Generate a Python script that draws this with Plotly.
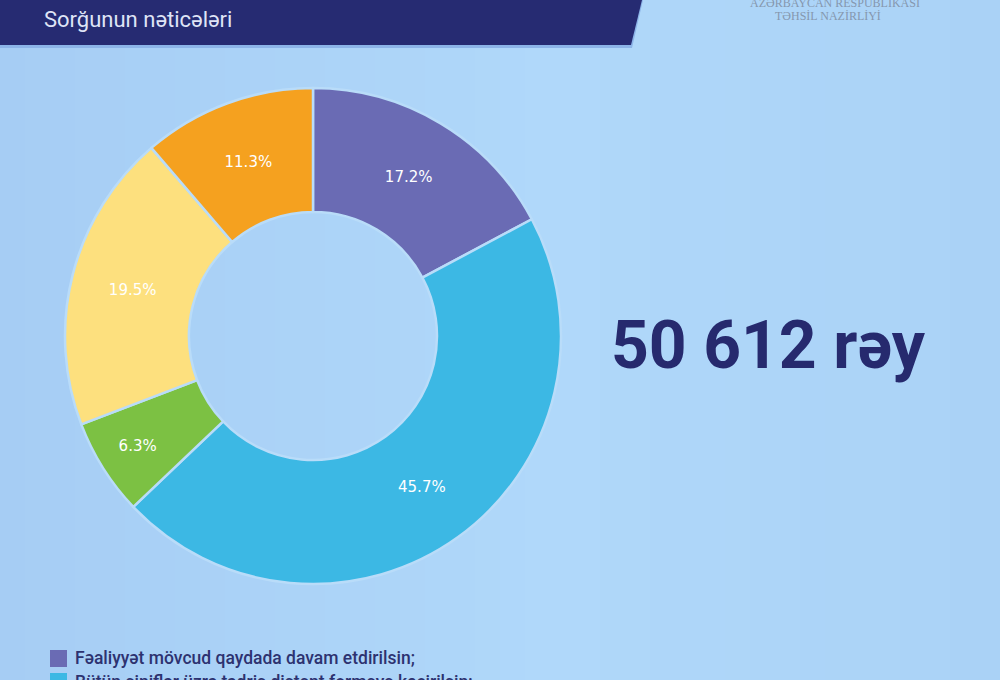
import plotly.graph_objects as go

W, H = 1000, 680

labels = [
    "Fəaliyyət mövcud qaydada davam etdirilsin;",
    "Bütün siniflər üzrə tədris distant formaya keçirilsin;",
    "Yalnız ibtidai siniflər üzrə ənənəvi formada davam etdirilsin;",
    "Tədris qarışıq formada təşkil edilsin;",
    "Digər",
]
values = [17.2, 45.7, 6.3, 19.5, 11.3]
text_labels = ["17.2%", "45.7%", "6.3%", "19.5%", "11.3%"]
colors = ["#6a6bb4", "#3cb8e4", "#7cc143", "#fde07e", "#f5a11f"]

title_text = "Sorğunun nəticələri"
total_text = "50 612 rəy"
org_line1 = "AZƏRBAYCAN RESPUBLİKASI"
org_line2 = "TƏHSİL NAZİRLİYİ"


def px(x):
    return x / W


def py(y):
    return 1 - y / H


cx, cy, r = 313, 336, 248

fig = go.Figure()
fig.add_trace(go.Pie(
    labels=labels,
    values=values,
    text=text_labels,
    textinfo="text",
    textposition="inside",
    insidetextorientation="horizontal",
    textfont=dict(family="DejaVu Sans", size=15, color="white"),
    marker=dict(colors=colors, line=dict(color="#b9dcf9", width=2.5)),
    hole=0.5,
    sort=False,
    direction="clockwise",
    rotation=0,
    showlegend=False,
    domain=dict(x=[px(cx - r), px(cx + r)], y=[py(cy + r), py(cy - r)]),
))

shapes = []
# smooth-ish background: gentle horizontal gradient
left_rgb = (166, 205, 244)
mid_rgb = (176, 216, 250)
right_rgb = (170, 210, 246)
n = 40
for i in range(n):
    t = (i + 0.5) / n
    if t < 0.55:
        u = t / 0.55
        c = tuple(round(left_rgb[k] + (mid_rgb[k] - left_rgb[k]) * u) for k in range(3))
    else:
        u = (t - 0.55) / 0.45
        c = tuple(round(mid_rgb[k] + (right_rgb[k] - mid_rgb[k]) * u) for k in range(3))
    shapes.append(dict(type="rect", xref="paper", yref="paper", x0=i / n, x1=(i + 1) / n + 0.002,
                       y0=0, y1=1, fillcolor="rgb(%d,%d,%d)" % c, line=dict(width=0),
                       layer="below"))
# header band
shapes.append(dict(type="path", xref="paper", yref="paper",
                   path=f"M 0,{py(0)} L {px(643)},{py(0)} L {px(632)},{py(48)} L 0,{py(48)} Z",
                   fillcolor="#8cb4e8", line=dict(width=0), layer="below"))
shapes.append(dict(type="path", xref="paper", yref="paper",
                   path=f"M 0,{py(0)} L {px(642)},{py(0)} L {px(631)},{py(45)} L 0,{py(45)} Z",
                   fillcolor="#262b72", line=dict(width=0), layer="below"))
# legend squares
shapes.append(dict(type="rect", xref="paper", yref="paper",
                   x0=px(50), x1=px(67), y0=py(667), y1=py(650),
                   fillcolor=colors[0], line=dict(width=0)))
shapes.append(dict(type="rect", xref="paper", yref="paper",
                   x0=px(50), x1=px(67), y0=py(690), y1=py(673),
                   fillcolor=colors[1], line=dict(width=0)))

annotations = [
    dict(text=title_text, x=px(42), y=py(19), xref="paper", yref="paper",
         xanchor="left", yanchor="middle", showarrow=False,
         font=dict(family="Roboto", size=22, color="#dfe4f6")),
    dict(text=total_text, x=px(768), y=py(345), xref="paper", yref="paper",
         xanchor="center", yanchor="middle", showarrow=False,
         font=dict(family="Roboto", size=66, color="#262a6e", weight="bold")),
    dict(text=org_line1, x=px(835), y=py(3), xref="paper", yref="paper",
         xanchor="center", yanchor="middle", showarrow=False,
         font=dict(family="Liberation Serif, DejaVu Serif", size=12, color="#8597ae")),
    dict(text=org_line2, x=px(828), y=py(16), xref="paper", yref="paper",
         xanchor="center", yanchor="middle", showarrow=False,
         font=dict(family="Liberation Serif, DejaVu Serif", size=12, color="#8597ae")),
    dict(text=labels[0], x=px(73), y=py(658), xref="paper", yref="paper",
         xanchor="left", yanchor="middle", showarrow=False,
         font=dict(family="Roboto", size=17.5, color="#2d3270", weight=500)),
    dict(text=labels[1], x=px(73), y=py(682), xref="paper", yref="paper",
         xanchor="left", yanchor="middle", showarrow=False,
         font=dict(family="Roboto", size=17.5, color="#2d3270", weight=500)),
]

fig.update_layout(
    width=W, height=H,
    margin=dict(l=0, r=0, t=0, b=0),
    paper_bgcolor="#aed5f8",
    plot_bgcolor="#aed5f8",
    shapes=shapes,
    annotations=annotations,
)

fig.write_html("out.html", config={"displayModeBar": False})
